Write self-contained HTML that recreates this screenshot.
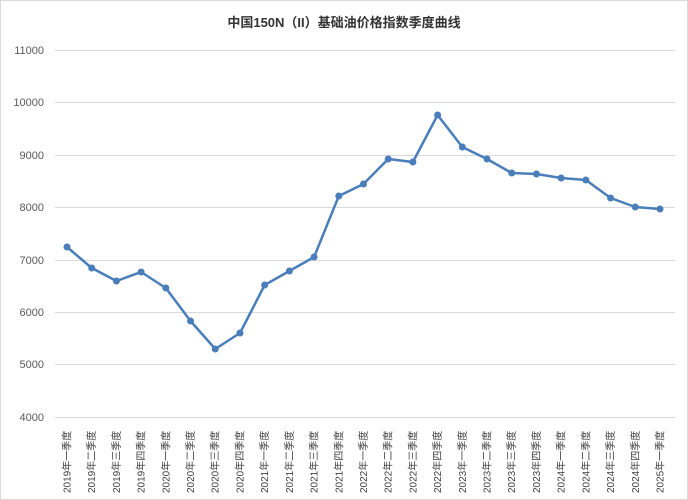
<!DOCTYPE html>
<html><head><meta charset="utf-8"><style>
body{margin:0;background:#fff}
svg{display:block;font-family:"Liberation Sans","Noto Sans CJK SC",sans-serif}
</style></head><body>
<svg width="688" height="500" viewBox="0 0 688 500">
<rect x="0.5" y="0.5" width="687" height="499" fill="#fff" stroke="#d9d9d9"/>
<text x="344" y="27" text-anchor="middle" font-size="13" font-weight="bold" fill="#333">中国150N（II）基础油价格指数季度曲线</text>
<g stroke="#d9d9d9" stroke-width="1">
<line x1="55" x2="675" y1="50.5" y2="50.5"/><line x1="55" x2="675" y1="102.5" y2="102.5"/>
<line x1="55" x2="675" y1="155.5" y2="155.5"/><line x1="55" x2="675" y1="207.5" y2="207.5"/>
<line x1="55" x2="675" y1="260.5" y2="260.5"/><line x1="55" x2="675" y1="312.5" y2="312.5"/>
<line x1="55" x2="675" y1="364.5" y2="364.5"/><line x1="55" x2="675" y1="417.5" y2="417.5"/>
</g>
<g font-size="11" fill="#595959" text-anchor="end">
<text x="44" y="54">11000</text><text x="44" y="106">10000</text><text x="44" y="159">9000</text>
<text x="44" y="211">8000</text><text x="44" y="264">7000</text><text x="44" y="316">6000</text>
<text x="44" y="368">5000</text><text x="44" y="421">4000</text>
</g>
<polyline fill="none" stroke="#4a7ebb" stroke-width="2.5" stroke-linejoin="round" points="67,247 91.7,268 116.4,281 141.1,272 165.8,288 190.5,321 215.3,349 240,333 264.7,285 289.4,271 314.1,257 338.8,196 363.5,184 388.2,159 412.9,162 437.6,115 462.3,147 487,159 511.8,173 536.5,174 561.2,178 585.9,180 610.6,198 635.3,207 660,209"/>
<g fill="#4a7ebb" id="pts"></g>
<g id="labs" font-size="10" fill="#404040"></g>
</svg>
<script>
var ys=[247,268,281,272,288,321,349,333,285,271,257,196,184,159,162,115,147,159,173,174,178,180,198,207,209];
var q=["一","二","三","四"];var p=document.getElementById("pts"),l=document.getElementById("labs");
for(var i=0;i<25;i++){var x=67+i*24.708;
var c=document.createElementNS("http://www.w3.org/2000/svg","circle");c.setAttribute("cx",x);c.setAttribute("cy",ys[i]);c.setAttribute("r",3.5);p.appendChild(c);
var t=document.createElementNS("http://www.w3.org/2000/svg","text");t.setAttribute("transform","translate("+(x+3.5)+",493) rotate(-90)");
t.textContent=(2019+Math.floor(i/4))+"年"+q[i%4]+"季度";l.appendChild(t);}
</script>
</body></html>
